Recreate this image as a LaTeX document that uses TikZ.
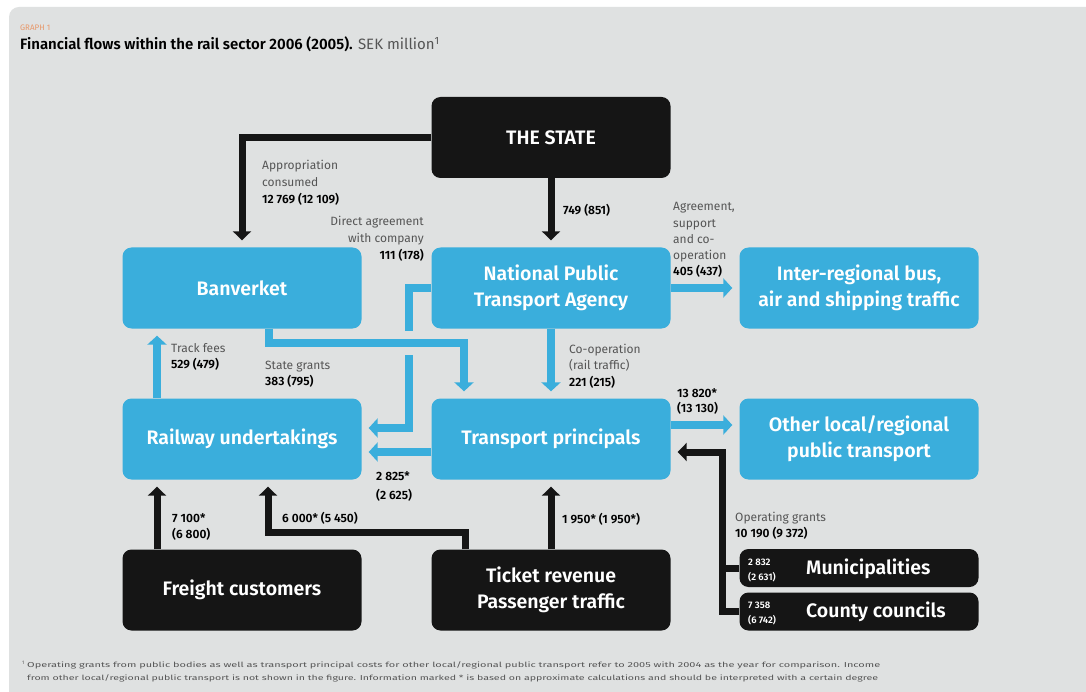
\documentclass[tikz,border=0pt]{standalone}
\usepackage{fontspec}
\setmainfont{Fira Sans}[BoldFont={Fira Sans SemiBold}]
\usetikzlibrary{arrows.meta,calc}
\definecolor{bgc}{HTML}{DFE1E1}
\definecolor{cblue}{HTML}{3AAEDC}
\definecolor{cblack}{HTML}{151515}
\definecolor{cgray}{HTML}{555555}
\definecolor{corange}{HTML}{E8986A}
\newcommand{\numb}[1]{\textcolor{black}{\bfseries #1}}
\begin{document}
\begin{tikzpicture}[x=1pt,y=-1pt,
  box/.style={rounded corners=9pt, minimum width=239pt, minimum height=81pt, inner sep=0pt, text=white, font=\fontsize{19.5}{26}\selectfont\bfseries, align=center},
  bluebox/.style={box, fill=cblue},
  blackbox/.style={box, fill=cblack},
  smallbox/.style={blackbox, minimum height=38pt},
  barrow/.style={draw=cblue, line width=8pt, -{Triangle[width=19pt,length=9pt]}, shorten >=7pt},
  karrow/.style={draw=cblack, line width=7pt, -{Triangle[width=18pt,length=9pt]}, shorten >=7pt},
  kline/.style={draw=cblack, line width=7pt},
  lbl/.style={inner sep=0pt, font=\fontsize{12}{16.8}\selectfont, text=cgray},
  smallnum/.style={inner sep=0pt, font=\fontsize{9.5}{14.5}\selectfont\bfseries, text=white, align=left, anchor=base west},
]
\useasboundingbox (0,0) rectangle (1086,692);
\fill[white] (0,0) rectangle (1086,692);
\fill[bgc, rounded corners=10pt] (9,7) rectangle (1110,720);

% title
\node[inner sep=0pt, anchor=base west, font=\fontsize{8}{9}\selectfont, text=corange] (graph) at (20,31) {GRAPH 1};
\node[inner sep=0pt, anchor=base west, font=\fontsize{15}{18}\selectfont] (title) at (20,50)
  {\textbf{Financial flows within the rail sector 2006 (2005).} \textcolor{cgray}{SEK million\textsuperscript{1}}};

% boxes
\node[blackbox] (state) at (551,137.5) {THE STATE};
\node[bluebox] (banv) at (242,288) {Banverket};
\node[bluebox] (npta) at (551,288) {National Public\\Transport Agency};
\node[bluebox] (inter) at (859,288) {Inter-regional bus,\\air and shipping traffic};
\node[bluebox] (ru) at (242,439) {Railway undertakings};
\node[bluebox] (tp) at (551,439) {Transport principals};
\node[bluebox] (other) at (859,439) {Other local/regional\\public transport};
\node[blackbox] (freight) at (242,590) {Freight customers};
\node[blackbox] (ticket) at (551,590) {Ticket revenue\\Passenger traffic};
\node[smallbox] (munic) at (859,568) {};
\node[smallbox] (county) at (859,611.5) {};
\node[inner sep=0pt, anchor=west, text=white, font=\fontsize{19.5}{22}\selectfont\bfseries] (municT) at (806,569) {Municipalities};
\node[inner sep=0pt, anchor=west, text=white, font=\fontsize{19.5}{22}\selectfont\bfseries] (countyT) at (806,612) {County councils};
\node[smallnum] (municN) at (748,580) {2 832\\(2 631)};
\node[smallnum] (countyN) at (748,623) {7 358\\(6 742)};

% helper coordinates
\coordinate (xf) at (157,0);
\coordinate (c1) at (409,428);
\coordinate (b1) at (269,343);
\coordinate (b2) at (464,343);
\coordinate (t1) at (465,532);
\coordinate (t2) at (268,532);
\coordinate (ya) at (0,452);
\coordinate (yb) at (0,425);
\coordinate (m1) at (722,452);

% black connectors
\draw[karrow] (state.west) -| (banv.north);
\draw[karrow] (state.south) -- (npta.north);
\draw[karrow] (freight.north -| xf) -- (ru.south -| xf);
\draw[karrow] (ticket.north -| t1) -- (t1) -- (t2) -- (t2 |- ru.south);
\draw[karrow] (ticket.north) -- (tp.south);
\draw[karrow] (county.west) -| (m1) -- (m1 -| tp.east);
\draw[kline] (munic.west) -- (munic.west -| m1);

% blue connectors
\draw[barrow] (npta.east) -- (inter.west);
\draw[barrow] (npta.west) -| (c1) -- (c1 -| ru.east);
\fill[bgc] (402,331) rectangle (416,355);
\draw[barrow] (banv.south -| b1) -- (b1) -- (b2) -- (b2 |- tp.north);
\draw[barrow] (ru.north -| xf) -- (banv.south -| xf);
\draw[barrow] (npta.south) -- (tp.north);
\draw[barrow] (tp.west |- ya) -- (ru.east |- ya);
\draw[barrow] (tp.east |- yb) -- (other.west |- yb);

% labels (base anchor = baseline of the last line)
\node[lbl, anchor=base west, align=left] (l1) at (262,203.6) {Appropriation\\consumed\\\numb{12 769 (12 109)}};
\node[lbl, anchor=base east, align=right] (l2) at (424,259.6) {Direct agreement\\with company\\\numb{111 (178)}};
\node[lbl, anchor=base west] (l3) at (563,215) {\numb{749 (851)}};
\node[lbl, anchor=base west, align=left, font=\fontsize{12}{16.2}\selectfont] (l4) at (673,275.8) {Agreement,\\support\\and co-\\operation\\\numb{405 (437)}};
\node[lbl, anchor=base west, align=left] (l5) at (171,368.8) {Track fees\\\numb{529 (479)}};
\node[lbl, anchor=base west, align=left] (l6) at (265,385.8) {State grants\\\numb{383 (795)}};
\node[lbl, anchor=base west, align=left] (l7) at (569,386.6) {Co-operation\\(rail traffic)\\\numb{221 (215)}};
\node[lbl, anchor=base west, align=left, font=\fontsize{12}{15.5}\selectfont] (l8) at (677,412.5) {\numb{13 820*}\\\numb{(13 130)}};
\node[lbl, anchor=base west, align=left, font=\fontsize{12}{19}\selectfont] (l9) at (376,499) {\numb{2 825*}\\\numb{(2 625)}};
\node[lbl, anchor=base west, align=left] (l10) at (172,538.8) {\numb{7 100*}\\\numb{(6 800)}};
\node[lbl, anchor=base west] (l11) at (282,522) {\numb{6 000* (5 450)}};
\node[lbl, anchor=base west] (l12) at (562,523) {\numb{1 950* (1 950*)}};
\node[lbl, anchor=base west, align=left, font=\fontsize{12}{16}\selectfont] (l13) at (735,537) {Operating grants\\\numb{10 190 (9 372)}};

% footnote
\node[inner sep=0pt, anchor=base west, font=\fontsize{5}{6}\selectfont, text=cgray] (fn0) at (22,664) {1};
\node[inner sep=0pt, anchor=base west, font=\fontsize{7.5}{9}\selectfont, text=cgray] (fn1) at (27,667)
  {\resizebox{853pt}{5.8pt}{Operating grants from public bodies as well as transport principal costs for other local/regional public transport refer to 2005 with 2004 as the year for comparison. Income}};
\node[inner sep=0pt, anchor=base west, font=\fontsize{7.5}{9}\selectfont, text=cgray] (fn2) at (27,680)
  {\resizebox{851pt}{5.8pt}{from other local/regional public transport is not shown in the figure. Information marked * is based on approximate calculations and should be interpreted with a certain degree}};
\end{tikzpicture}
\end{document}
